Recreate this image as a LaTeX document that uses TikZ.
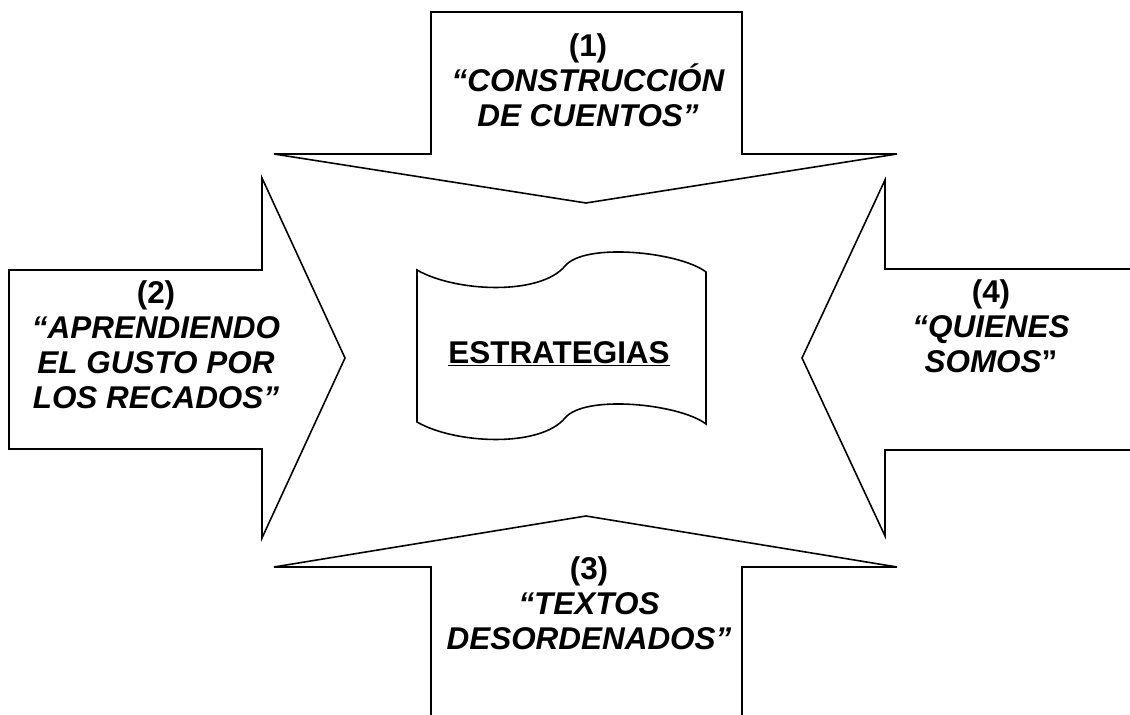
\documentclass[tikz,border=0pt]{standalone}
\usepackage{fontspec}
\setmainfont{Liberation Sans}
\usepackage{tikz}
\usetikzlibrary{calc}
\definecolor{ink}{HTML}{000000}
\tikzset{
  bigarrow/.style={draw=ink, fill=white, line width=0.9pt, line join=miter},
  flag/.style={draw=ink, fill=white, line width=0.9pt},
  lab/.style={text=ink, font={\fontsize{17.9}{20}\selectfont\bfseries}, align=center, inner sep=0pt}
}

\begin{document}
\begin{tikzpicture}[x=0.02cm, y=-0.02cm]
  \useasboundingbox (0,0) rectangle (1130,715);
  \clip (0,0) rectangle (1130,715);

  % tips of the four arrows
  \coordinate (T1) at (586,203);
  \coordinate (T2) at (345,358);
  \coordinate (T3) at (586,516);
  \coordinate (T4) at (802,358);

  % (1) from the top
  \draw[bigarrow] (431,12) -- (742,12) -- (742,154) -- (897,154) -- (T1)
    -- (274,154) -- (431,154) -- cycle;
  % (2) from the left
  \draw[bigarrow] (9,270) -- (262,270) -- (262,178) -- (T2)
    -- (262,538) -- (262,449) -- (9,449) -- cycle;
  % (3) from below, runs off the page
  \draw[bigarrow] (431,725) -- (431,567) -- (274,567) -- (T3)
    -- (897,567) -- (742,567) -- (742,725);
  % (4) from the right, runs off the page
  \draw[bigarrow] (1140,269) -- (885,269) -- (885,180) -- (T4)
    -- (885,536) -- (885,450) -- (1140,450);

  % wavy sheet in the middle
  \draw[flag] (417,270) .. controls (455,292) and (540,296) .. (565,266)
    .. controls (585,242) and (680,252) .. (706,272)
    -- (706,424) .. controls (680,404) and (585,394) .. (565,418)
    .. controls (540,448) and (455,444) .. (417,422) -- cycle;

  \node[lab] (mid) at (559,354) {\underline{ESTRATEGIAS}};

  \node[lab] (lab1) at (588,80) {(1)\\{\itshape “CONSTRUCCIÓN}\\{\itshape DE CUENTOS”}};
  \node[lab] (lab2) at (156,345) {(2)\\{\itshape “APRENDIENDO}\\{\itshape EL GUSTO POR}\\{\itshape LOS RECADOS”}};
  \node[lab] (lab3) at (589,603) {(3)\\{\itshape “TEXTOS}\\{\itshape DESORDENADOS”}};
  \node[lab] (lab4) at (991,326) {(4)\\{\itshape “QUIENES}\\{\itshape SOMOS}”};
\end{tikzpicture}
\end{document}
